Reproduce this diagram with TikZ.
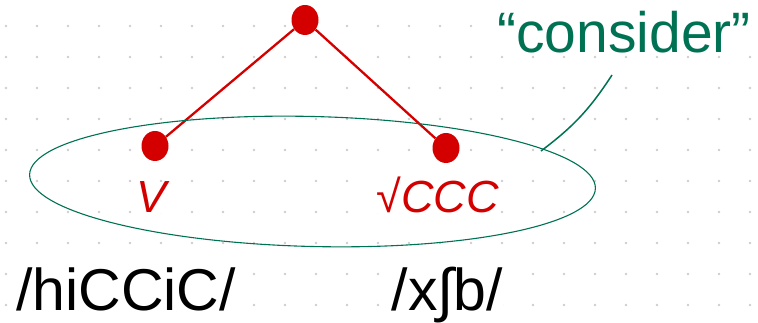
\documentclass[tikz,border=0pt]{standalone}
\usepackage{fontspec}
\setmainfont{Liberation Sans}
\usetikzlibrary{shapes.geometric}
\definecolor{treered}{RGB}{212,0,0}
\definecolor{notegreen}{RGB}{0,114,84}
\definecolor{griddot}{RGB}{205,205,205}

\begin{document}
\begin{tikzpicture}[x=1pt, y=1pt,
        treedot/.style={ellipse, fill=treered, minimum width=27pt, minimum height=30pt, inner sep=0pt},
        branch/.style={draw=treered, line width=2.3pt},
        leaflabel/.style={text=treered, fill=white, inner sep=0pt, anchor=base, font=\fontsize{45}{45}\selectfont\itshape},
        wordform/.style={text=black, fill=white, inner sep=0pt, anchor=base, font=\fontsize{59}{59}\selectfont},
        note/.style={text=notegreen, fill=white, inner sep=0pt, anchor=base, font=\fontsize{57}{57}\selectfont},
        hull/.style={draw=notegreen, line width=1.1pt},
        pointer/.style={draw=notegreen, line width=1.5pt}
    ]
    \useasboundingbox (0,0) rectangle (758,323);
    % dotted grid in the background
    \foreach \i in {0,...,24}
        \foreach \j in {0,...,9}
            \fill[griddot] (6+31*\i, 297-31*\j) circle (1.4pt);
    % tree
    \node[treedot] (root) at (305,303) {};
    \node[treedot] (vdot) at (155,177) {};
    \node[treedot] (rootdot) at (446,175) {};
    \draw[branch] (root) -- (vdot);
    \draw[branch] (root) -- (rootdot);
    \node[leaflabel] (vlabel) at (151.5,110) {V};
    \node[leaflabel] (rootlabel) at (437.5,110) {√CCC};
    % grouping of the two leaves
    \node[hull, ellipse, minimum width=566pt, minimum height=130pt, inner sep=0pt, rotate=-1.4] (group) at (312.5,141.5) {};
    \node[note] (consider) at (624,270) {“consider”};
    \coordinate (tail) at (612,248);
    \coordinate (touch) at (541,172);
    \draw[pointer] (tail) to[bend left=10] (touch);
    % surface forms
    \node[wordform] (vform) at (126,12) {/hiCCiC/};
    \node[wordform] (rootform) at (447.5,12) {/x∫b/};
\end{tikzpicture}
\end{document}
